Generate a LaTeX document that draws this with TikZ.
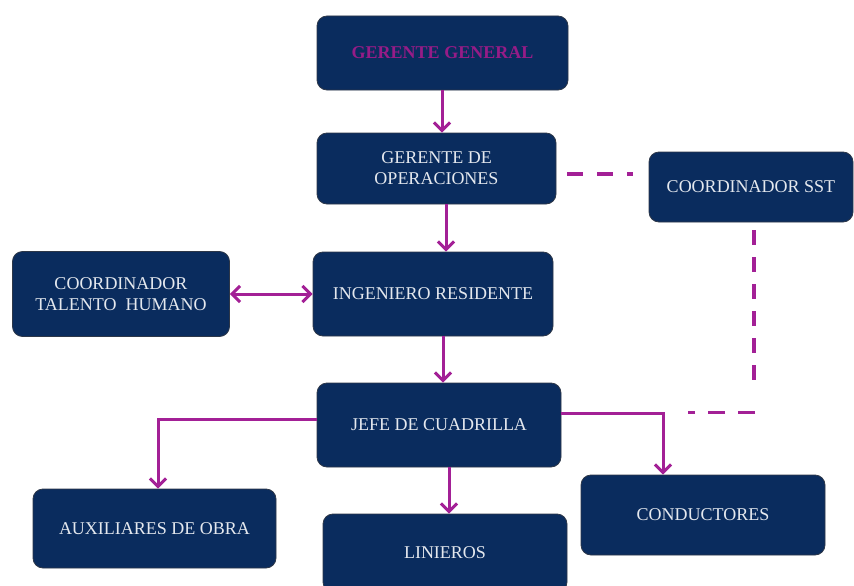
\documentclass[tikz,border=0pt]{standalone}
\usepackage{fontspec}
\setmainfont{Liberation Serif}
\usetikzlibrary{arrows.meta}
\definecolor{navy}{RGB}{10,44,94}
\definecolor{mag}{RGB}{163,32,150}
\definecolor{magtxt}{RGB}{150,28,135}
\definecolor{txt}{RGB}{228,232,238}
\definecolor{edge}{RGB}{45,55,72}
\begin{document}
\begin{tikzpicture}[x=1pt,y=-1pt,
  box/.style={rectangle,rounded corners=10pt,fill=navy,draw=edge,line width=0.8pt,
    text=txt,align=center,font=\fontsize{18}{21}\selectfont,inner sep=0pt},
  arr/.style={draw=mag,line width=3pt,-{Straight Barb[length=8pt,width=16pt]}},
  dbl/.style={draw=mag,line width=3pt,{Straight Barb[length=8pt,width=16pt]}-{Straight Barb[length=8pt,width=16pt]}},
  dsh/.style={draw=mag,line width=3.5pt}]
\useasboundingbox (0,0) rectangle (854,586);

\node[box,minimum width=251pt,minimum height=74pt,text=magtxt,font=\fontsize{18}{21}\selectfont\bfseries] (GG) at (442.5,53) {GERENTE GENERAL};
\node[box,minimum width=239pt,minimum height=71pt] (GO) at (436.5,168.5) {GERENTE DE\\OPERACIONES};
\node[box,minimum width=204pt,minimum height=70pt] (SST) at (751,187) {COORDINADOR SST};
\node[box,minimum width=217pt,minimum height=85pt] (CTH) at (121,294) {COORDINADOR\\TALENTO\ \ HUMANO};
\node[box,minimum width=240pt,minimum height=84pt] (IR) at (433,294) {INGENIERO RESIDENTE};
\node[box,minimum width=244pt,minimum height=84pt] (JC) at (439,425) {JEFE DE CUADRILLA};
\node[box,minimum width=243pt,minimum height=79pt] (AUX) at (154.5,528.5) {AUXILIARES DE OBRA};
\node[box,minimum width=244pt,minimum height=78pt] (LIN) at (445,553) {LINIEROS};
\node[box,minimum width=244pt,minimum height=80pt] (COND) at (703,515) {CONDUCTORES};

\draw[arr] ([xshift=-0.5pt]GG.south) -- ([xshift=5.5pt]GO.north);
\draw[arr] ([xshift=9.5pt]GO.south) -- ([xshift=13pt]IR.north);
\draw[arr] ([xshift=10pt]IR.south) -- ([xshift=4pt]JC.north);
\draw[arr] ([xshift=10pt]JC.south) -- ([xshift=4pt]LIN.north);
\draw[dbl] (CTH.east) -- (IR.west);
\draw[arr] ([yshift=12pt]JC.east) -| ([xshift=-40pt]COND.north);
\draw[arr] ([yshift=6pt]JC.west) -| ([xshift=3.5pt]AUX.north);

\draw[dsh,dash pattern=on 16pt off 14pt] ([shift={(11pt,-5.5pt)}]GO.east) -- ++(66,0);
\draw[dsh,dash pattern=on 15pt off 12pt] ([shift={(3pt,-8pt)}]SST.south) -- ++(0,152);
\draw[dsh,dash pattern=on 17pt off 13pt] ([shift={(4pt,-190pt)}]SST.south) -- ++(-67,0);
\end{tikzpicture}
\end{document}
